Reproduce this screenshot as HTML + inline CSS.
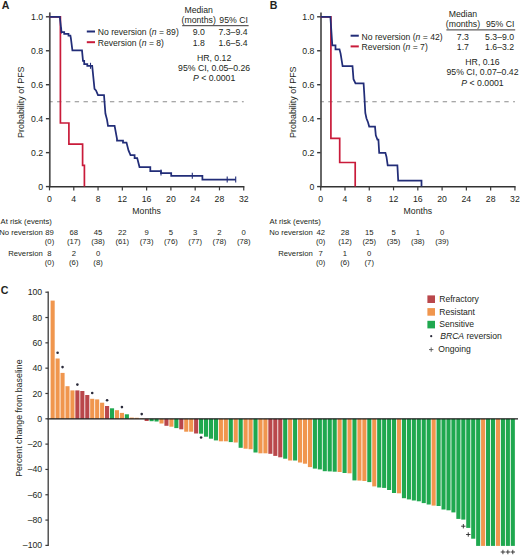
<!DOCTYPE html><html><head><meta charset="utf-8"><style>html,body{margin:0;padding:0;background:#fff;}svg{display:block;font-family:"Liberation Sans",sans-serif;}text{fill:#231f20;}</style></head><body>
<svg width="520" height="555" viewBox="0 0 520 555">
<rect width="520" height="555" fill="#fff"/>
<text x="1.8" y="9.3" font-size="10.6" font-weight="bold">A</text>
<line x1="49.5" y1="101.70" x2="243.74" y2="101.70" stroke="#8c8c8c" stroke-width="1.1" stroke-dasharray="4.4 4.4" stroke-dashoffset="1.2"/>
<line x1="49.8" y1="12.4" x2="49.8" y2="187.20" stroke="#4d4d4d" stroke-width="1.7"/>
<line x1="45.9" y1="186.60" x2="49.5" y2="186.60" stroke="#3a3a3a" stroke-width="1.4"/>
<text x="43.2" y="189.65" font-size="8.7" text-anchor="end" >0</text>
<line x1="45.9" y1="152.64" x2="49.5" y2="152.64" stroke="#3a3a3a" stroke-width="1.4"/>
<text x="43.2" y="155.69" font-size="8.7" text-anchor="end" >0.2</text>
<line x1="45.9" y1="118.68" x2="49.5" y2="118.68" stroke="#3a3a3a" stroke-width="1.4"/>
<text x="43.2" y="121.73" font-size="8.7" text-anchor="end" >0.4</text>
<line x1="45.9" y1="84.72" x2="49.5" y2="84.72" stroke="#3a3a3a" stroke-width="1.4"/>
<text x="43.2" y="87.77" font-size="8.7" text-anchor="end" >0.6</text>
<line x1="45.9" y1="50.76" x2="49.5" y2="50.76" stroke="#3a3a3a" stroke-width="1.4"/>
<text x="43.2" y="53.81" font-size="8.7" text-anchor="end" >0.8</text>
<line x1="45.9" y1="16.80" x2="49.5" y2="16.80" stroke="#3a3a3a" stroke-width="1.4"/>
<text x="43.2" y="19.85" font-size="8.7" text-anchor="end" >1.0</text>
<line x1="48.9" y1="186.7" x2="244.34" y2="186.7" stroke="#333" stroke-width="1.5"/>
<line x1="49.50" y1="186.6" x2="49.50" y2="190.4" stroke="#3a3a3a" stroke-width="1.2"/>
<text x="49.50" y="202.2" font-size="8.7" text-anchor="middle" >0</text>
<line x1="73.78" y1="186.6" x2="73.78" y2="190.4" stroke="#3a3a3a" stroke-width="1.2"/>
<text x="73.78" y="202.2" font-size="8.7" text-anchor="middle" >4</text>
<line x1="98.06" y1="186.6" x2="98.06" y2="190.4" stroke="#3a3a3a" stroke-width="1.2"/>
<text x="98.06" y="202.2" font-size="8.7" text-anchor="middle" >8</text>
<line x1="122.34" y1="186.6" x2="122.34" y2="190.4" stroke="#3a3a3a" stroke-width="1.2"/>
<text x="122.34" y="202.2" font-size="8.7" text-anchor="middle" >12</text>
<line x1="146.62" y1="186.6" x2="146.62" y2="190.4" stroke="#3a3a3a" stroke-width="1.2"/>
<text x="146.62" y="202.2" font-size="8.7" text-anchor="middle" >16</text>
<line x1="170.90" y1="186.6" x2="170.90" y2="190.4" stroke="#3a3a3a" stroke-width="1.2"/>
<text x="170.90" y="202.2" font-size="8.7" text-anchor="middle" >20</text>
<line x1="195.18" y1="186.6" x2="195.18" y2="190.4" stroke="#3a3a3a" stroke-width="1.2"/>
<text x="195.18" y="202.2" font-size="8.7" text-anchor="middle" >24</text>
<line x1="219.46" y1="186.6" x2="219.46" y2="190.4" stroke="#3a3a3a" stroke-width="1.2"/>
<text x="219.46" y="202.2" font-size="8.7" text-anchor="middle" >28</text>
<line x1="243.74" y1="186.6" x2="243.74" y2="190.4" stroke="#3a3a3a" stroke-width="1.2"/>
<text x="243.74" y="202.2" font-size="8.7" text-anchor="middle" >32</text>
<text x="146.62" y="213.6" font-size="8.7" text-anchor="middle" >Months</text>
<text transform="translate(23.5,102.2) rotate(-90)" font-size="8.95" text-anchor="middle">Probability of PFS</text>
<path d="M49.50,16.80 L60.40,16.80 L60.40,123.00 L68.90,123.00 L68.90,144.20 L82.60,144.20 L82.60,165.40 L84.40,165.40 L84.40,186.60" fill="none" stroke="#c91b3a" stroke-width="1.7" stroke-linejoin="miter"/>
<path d="M49.50,16.80 L59.80,16.80 L61.20,29.70 L61.50,32.00 L64.20,32.00 L64.20,33.90 L68.50,33.90 L68.50,35.50 L70.40,35.50 L70.90,38.50 L72.40,50.30 L82.00,50.30 L83.00,60.80 L84.20,60.80 L84.20,64.00 L87.30,64.00 L87.30,65.80 L92.20,65.80 L94.50,88.80 L96.00,90.50 L98.00,95.00 L104.00,95.00 L105.40,113.50 L107.00,119.60 L108.00,125.80 L114.60,125.80 L117.00,138.80 L117.00,140.70 L123.00,140.70 L123.00,142.60 L126.50,142.60 L128.50,150.40 L130.50,155.00 L134.60,155.00 L134.60,158.00 L137.20,158.00 L139.50,167.00 L150.30,167.00 L150.30,171.10 L161.00,171.10 L161.00,173.20 L171.20,173.20 L171.20,175.80 L202.40,175.80 L202.40,179.50 L235.70,179.50" fill="none" stroke="#222d78" stroke-width="1.75" stroke-linejoin="miter"/>
<line x1="61.5" y1="27.5" x2="61.5" y2="33.5" stroke="#222d78" stroke-width="1.1"/>
<line x1="90.5" y1="62.8" x2="90.5" y2="68.8" stroke="#222d78" stroke-width="1.1"/>
<line x1="161.0" y1="169.6" x2="161.0" y2="175.6" stroke="#222d78" stroke-width="1.1"/>
<line x1="192.3" y1="172.8" x2="192.3" y2="178.8" stroke="#222d78" stroke-width="1.1"/>
<line x1="227.2" y1="176.5" x2="227.2" y2="182.5" stroke="#222d78" stroke-width="1.1"/>
<line x1="235.7" y1="176.5" x2="235.7" y2="182.5" stroke="#222d78" stroke-width="1.1"/>
<line x1="86.8" y1="31.5" x2="95.0" y2="31.5" stroke="#222d78" stroke-width="2"/>
<line x1="86.8" y1="42.2" x2="95.0" y2="42.2" stroke="#c91b3a" stroke-width="2"/>
<text x="97.8" y="35.3" font-size="8.6" text-anchor="start" >No reversion (<tspan font-style="italic">n</tspan> = 89)</text>
<text x="97.8" y="45.9" font-size="8.6" text-anchor="start" >Reversion (<tspan font-style="italic">n</tspan> = 8)</text>
<text x="198.7" y="13.2" font-size="8.7" text-anchor="middle" >Median</text>
<text x="198.7" y="22.9" font-size="8.7" text-anchor="middle" >(months)</text>
<text x="233.6" y="22.9" font-size="8.7" text-anchor="middle" >95% CI</text>
<line x1="182.2" y1="25.7" x2="248.6" y2="25.7" stroke="#231f20" stroke-width="0.9"/>
<text x="198.7" y="35.3" font-size="8.7" text-anchor="middle" >9.0</text>
<text x="233.0" y="35.3" font-size="8.7" text-anchor="middle" >7.3&#8211;9.4</text>
<text x="198.7" y="45.9" font-size="8.7" text-anchor="middle" >1.8</text>
<text x="233.0" y="45.9" font-size="8.7" text-anchor="middle" >1.6&#8211;5.4</text>
<text x="214.1" y="60.7" font-size="8.7" text-anchor="middle" >HR, 0.12</text>
<text x="214.1" y="71.0" font-size="8.7" text-anchor="middle" >95% CI, 0.05&#8211;0.26</text>
<text x="214.1" y="81.3" font-size="8.7" text-anchor="middle" ><tspan font-style="italic">P</tspan> &lt; 0.0001</text>
<text x="0.6" y="223.9" font-size="7.7" text-anchor="start" >At risk (events)</text>
<text x="42.8" y="234.6" font-size="7.7" text-anchor="end" >No reversion</text>
<text x="42.8" y="255.6" font-size="7.7" text-anchor="end" >Reversion</text>
<text x="49.50" y="234.6" font-size="7.7" text-anchor="middle" >89</text>
<text x="73.78" y="234.6" font-size="7.7" text-anchor="middle" >68</text>
<text x="98.06" y="234.6" font-size="7.7" text-anchor="middle" >45</text>
<text x="122.34" y="234.6" font-size="7.7" text-anchor="middle" >22</text>
<text x="146.62" y="234.6" font-size="7.7" text-anchor="middle" >9</text>
<text x="170.90" y="234.6" font-size="7.7" text-anchor="middle" >5</text>
<text x="195.18" y="234.6" font-size="7.7" text-anchor="middle" >3</text>
<text x="219.46" y="234.6" font-size="7.7" text-anchor="middle" >2</text>
<text x="243.74" y="234.6" font-size="7.7" text-anchor="middle" >0</text>
<text x="49.50" y="244.0" font-size="7.7" text-anchor="middle" >(0)</text>
<text x="73.78" y="244.0" font-size="7.7" text-anchor="middle" >(17)</text>
<text x="98.06" y="244.0" font-size="7.7" text-anchor="middle" >(38)</text>
<text x="122.34" y="244.0" font-size="7.7" text-anchor="middle" >(61)</text>
<text x="146.62" y="244.0" font-size="7.7" text-anchor="middle" >(73)</text>
<text x="170.90" y="244.0" font-size="7.7" text-anchor="middle" >(76)</text>
<text x="195.18" y="244.0" font-size="7.7" text-anchor="middle" >(77)</text>
<text x="219.46" y="244.0" font-size="7.7" text-anchor="middle" >(78)</text>
<text x="243.74" y="244.0" font-size="7.7" text-anchor="middle" >(78)</text>
<text x="49.50" y="255.6" font-size="7.7" text-anchor="middle" >8</text>
<text x="73.78" y="255.6" font-size="7.7" text-anchor="middle" >2</text>
<text x="98.06" y="255.6" font-size="7.7" text-anchor="middle" >0</text>
<text x="49.50" y="265.0" font-size="7.7" text-anchor="middle" >(0)</text>
<text x="73.78" y="265.0" font-size="7.7" text-anchor="middle" >(6)</text>
<text x="98.06" y="265.0" font-size="7.7" text-anchor="middle" >(8)</text>
<text x="269.8" y="9.3" font-size="10.6" font-weight="bold">B</text>
<line x1="320.7" y1="101.70" x2="514.94" y2="101.70" stroke="#8c8c8c" stroke-width="1.1" stroke-dasharray="4.4 4.4" stroke-dashoffset="1.2"/>
<line x1="321.0" y1="12.4" x2="321.0" y2="187.20" stroke="#4d4d4d" stroke-width="1.7"/>
<line x1="317.09999999999997" y1="186.60" x2="320.7" y2="186.60" stroke="#3a3a3a" stroke-width="1.4"/>
<text x="314.4" y="189.65" font-size="8.7" text-anchor="end" >0</text>
<line x1="317.09999999999997" y1="152.64" x2="320.7" y2="152.64" stroke="#3a3a3a" stroke-width="1.4"/>
<text x="314.4" y="155.69" font-size="8.7" text-anchor="end" >0.2</text>
<line x1="317.09999999999997" y1="118.68" x2="320.7" y2="118.68" stroke="#3a3a3a" stroke-width="1.4"/>
<text x="314.4" y="121.73" font-size="8.7" text-anchor="end" >0.4</text>
<line x1="317.09999999999997" y1="84.72" x2="320.7" y2="84.72" stroke="#3a3a3a" stroke-width="1.4"/>
<text x="314.4" y="87.77" font-size="8.7" text-anchor="end" >0.6</text>
<line x1="317.09999999999997" y1="50.76" x2="320.7" y2="50.76" stroke="#3a3a3a" stroke-width="1.4"/>
<text x="314.4" y="53.81" font-size="8.7" text-anchor="end" >0.8</text>
<line x1="317.09999999999997" y1="16.80" x2="320.7" y2="16.80" stroke="#3a3a3a" stroke-width="1.4"/>
<text x="314.4" y="19.85" font-size="8.7" text-anchor="end" >1.0</text>
<line x1="320.09999999999997" y1="186.7" x2="515.54" y2="186.7" stroke="#333" stroke-width="1.5"/>
<line x1="320.70" y1="186.6" x2="320.70" y2="190.4" stroke="#3a3a3a" stroke-width="1.2"/>
<text x="320.70" y="202.2" font-size="8.7" text-anchor="middle" >0</text>
<line x1="344.98" y1="186.6" x2="344.98" y2="190.4" stroke="#3a3a3a" stroke-width="1.2"/>
<text x="344.98" y="202.2" font-size="8.7" text-anchor="middle" >4</text>
<line x1="369.26" y1="186.6" x2="369.26" y2="190.4" stroke="#3a3a3a" stroke-width="1.2"/>
<text x="369.26" y="202.2" font-size="8.7" text-anchor="middle" >8</text>
<line x1="393.54" y1="186.6" x2="393.54" y2="190.4" stroke="#3a3a3a" stroke-width="1.2"/>
<text x="393.54" y="202.2" font-size="8.7" text-anchor="middle" >12</text>
<line x1="417.82" y1="186.6" x2="417.82" y2="190.4" stroke="#3a3a3a" stroke-width="1.2"/>
<text x="417.82" y="202.2" font-size="8.7" text-anchor="middle" >16</text>
<line x1="442.10" y1="186.6" x2="442.10" y2="190.4" stroke="#3a3a3a" stroke-width="1.2"/>
<text x="442.10" y="202.2" font-size="8.7" text-anchor="middle" >20</text>
<line x1="466.38" y1="186.6" x2="466.38" y2="190.4" stroke="#3a3a3a" stroke-width="1.2"/>
<text x="466.38" y="202.2" font-size="8.7" text-anchor="middle" >24</text>
<line x1="490.66" y1="186.6" x2="490.66" y2="190.4" stroke="#3a3a3a" stroke-width="1.2"/>
<text x="490.66" y="202.2" font-size="8.7" text-anchor="middle" >28</text>
<line x1="514.94" y1="186.6" x2="514.94" y2="190.4" stroke="#3a3a3a" stroke-width="1.2"/>
<text x="514.94" y="202.2" font-size="8.7" text-anchor="middle" >32</text>
<text x="417.82" y="213.6" font-size="8.7" text-anchor="middle" >Months</text>
<text transform="translate(295.9,102.2) rotate(-90)" font-size="8.95" text-anchor="middle">Probability of PFS</text>
<path d="M320.70,16.80 L330.90,16.80 L330.90,138.40 L339.70,138.40 L339.70,162.50 L355.20,162.50 L355.20,186.60" fill="none" stroke="#c91b3a" stroke-width="1.7" stroke-linejoin="miter"/>
<path d="M320.70,16.80 L330.40,16.80 L332.30,45.40 L335.50,45.40 L335.50,49.40 L339.50,49.40 L340.60,53.60 L342.60,66.10 L352.50,66.10 L353.50,79.20 L355.50,83.40 L363.60,83.40 L364.40,96.20 L365.30,113.00 L366.50,118.50 L368.00,122.30 L369.20,126.60 L375.00,126.60 L375.80,135.40 L377.40,139.50 L378.40,139.50 L379.20,152.80 L385.40,152.80 L386.50,157.00 L387.70,165.40 L397.40,165.40 L398.20,180.50 L421.50,180.50 L421.50,186.60" fill="none" stroke="#222d78" stroke-width="1.75" stroke-linejoin="miter"/>
<line x1="350.6" y1="35.7" x2="358.8" y2="35.7" stroke="#222d78" stroke-width="2"/>
<line x1="350.6" y1="46.400000000000006" x2="358.8" y2="46.400000000000006" stroke="#c91b3a" stroke-width="2"/>
<text x="361.6" y="39.5" font-size="8.6" text-anchor="start" >No reversion (<tspan font-style="italic">n</tspan> = 42)</text>
<text x="361.6" y="50.1" font-size="8.6" text-anchor="start" >Reversion (<tspan font-style="italic">n</tspan> = 7)</text>
<text x="462.9" y="16.56" font-size="8.7" text-anchor="middle" >Median</text>
<text x="462.9" y="27.099999999999998" font-size="8.7" text-anchor="middle" >(months)</text>
<text x="500.20000000000005" y="27.099999999999998" font-size="8.7" text-anchor="middle" >95% CI</text>
<line x1="446.4" y1="29.9" x2="515.2" y2="29.9" stroke="#231f20" stroke-width="0.9"/>
<text x="462.9" y="39.5" font-size="8.7" text-anchor="middle" >7.3</text>
<text x="499.6" y="39.5" font-size="8.7" text-anchor="middle" >5.3&#8211;9.0</text>
<text x="462.9" y="50.1" font-size="8.7" text-anchor="middle" >1.7</text>
<text x="499.6" y="50.1" font-size="8.7" text-anchor="middle" >1.6&#8211;3.2</text>
<text x="482.5" y="64.9" font-size="8.7" text-anchor="middle" >HR, 0.16</text>
<text x="482.5" y="75.2" font-size="8.7" text-anchor="middle" >95% CI, 0.07&#8211;0.42</text>
<text x="482.5" y="85.5" font-size="8.7" text-anchor="middle" ><tspan font-style="italic">P</tspan> &lt; 0.0001</text>
<text x="269.6" y="223.9" font-size="7.7" text-anchor="start" >At risk (events)</text>
<text x="312.8" y="234.6" font-size="7.7" text-anchor="end" >No reversion</text>
<text x="312.8" y="255.6" font-size="7.7" text-anchor="end" >Reversion</text>
<text x="320.70" y="234.6" font-size="7.7" text-anchor="middle" >42</text>
<text x="344.98" y="234.6" font-size="7.7" text-anchor="middle" >28</text>
<text x="369.26" y="234.6" font-size="7.7" text-anchor="middle" >15</text>
<text x="393.54" y="234.6" font-size="7.7" text-anchor="middle" >5</text>
<text x="417.82" y="234.6" font-size="7.7" text-anchor="middle" >1</text>
<text x="442.10" y="234.6" font-size="7.7" text-anchor="middle" >0</text>
<text x="320.70" y="244.0" font-size="7.7" text-anchor="middle" >(0)</text>
<text x="344.98" y="244.0" font-size="7.7" text-anchor="middle" >(12)</text>
<text x="369.26" y="244.0" font-size="7.7" text-anchor="middle" >(25)</text>
<text x="393.54" y="244.0" font-size="7.7" text-anchor="middle" >(35)</text>
<text x="417.82" y="244.0" font-size="7.7" text-anchor="middle" >(38)</text>
<text x="442.10" y="244.0" font-size="7.7" text-anchor="middle" >(39)</text>
<text x="320.70" y="255.6" font-size="7.7" text-anchor="middle" >7</text>
<text x="344.98" y="255.6" font-size="7.7" text-anchor="middle" >1</text>
<text x="369.26" y="255.6" font-size="7.7" text-anchor="middle" >0</text>
<text x="320.70" y="265.0" font-size="7.7" text-anchor="middle" >(0)</text>
<text x="344.98" y="265.0" font-size="7.7" text-anchor="middle" >(6)</text>
<text x="369.26" y="265.0" font-size="7.7" text-anchor="middle" >(7)</text>
<text x="0.8" y="293.6" font-size="10.6" font-weight="bold">C</text>
<rect x="50.600" y="300.60" width="4.1" height="118.20" fill="#f0964e"/>
<rect x="55.548" y="358.50" width="4.1" height="60.30" fill="#f0964e"/>
<rect x="60.496" y="372.90" width="4.1" height="45.90" fill="#f0964e"/>
<rect x="65.444" y="386.20" width="4.1" height="32.60" fill="#f0964e"/>
<rect x="70.392" y="390.40" width="4.1" height="28.40" fill="#f0964e"/>
<rect x="75.340" y="390.40" width="4.1" height="28.40" fill="#b9474b"/>
<rect x="80.288" y="391.00" width="4.1" height="27.80" fill="#b9474b"/>
<rect x="85.236" y="395.00" width="4.1" height="23.80" fill="#b9474b"/>
<rect x="90.184" y="398.80" width="4.1" height="20.00" fill="#f0964e"/>
<rect x="95.132" y="399.40" width="4.1" height="19.40" fill="#f0964e"/>
<rect x="100.080" y="402.70" width="4.1" height="16.10" fill="#f0964e"/>
<rect x="105.028" y="406.00" width="4.1" height="12.80" fill="#b9474b"/>
<rect x="109.976" y="408.30" width="4.1" height="10.50" fill="#1fa84f"/>
<rect x="114.924" y="410.20" width="4.1" height="8.60" fill="#f0964e"/>
<rect x="119.872" y="412.90" width="4.1" height="5.90" fill="#f0964e"/>
<rect x="124.820" y="414.30" width="4.1" height="4.50" fill="#1fa84f"/>
<rect x="129.768" y="417.60" width="4.1" height="1.20" fill="#f0964e"/>
<rect x="134.716" y="417.80" width="4.1" height="1.00" fill="#f0964e"/>
<rect x="139.664" y="418.40" width="4.1" height="0.40" fill="#f0964e"/>
<rect x="144.612" y="418.80" width="4.1" height="2.20" fill="#b9474b"/>
<rect x="149.560" y="418.80" width="4.1" height="2.40" fill="#1fa84f"/>
<rect x="154.508" y="418.80" width="4.1" height="2.70" fill="#1fa84f"/>
<rect x="159.456" y="418.80" width="4.1" height="4.70" fill="#f0964e"/>
<rect x="164.404" y="418.80" width="4.1" height="7.00" fill="#b9474b"/>
<rect x="169.352" y="418.80" width="4.1" height="7.90" fill="#f0964e"/>
<rect x="174.300" y="418.80" width="4.1" height="9.30" fill="#1fa84f"/>
<rect x="179.248" y="418.80" width="4.1" height="10.50" fill="#b9474b"/>
<rect x="184.196" y="418.80" width="4.1" height="12.90" fill="#f0964e"/>
<rect x="189.144" y="418.80" width="4.1" height="12.90" fill="#f0964e"/>
<rect x="194.092" y="418.80" width="4.1" height="14.70" fill="#b9474b"/>
<rect x="199.040" y="418.80" width="4.1" height="14.90" fill="#1fa84f"/>
<rect x="203.988" y="418.80" width="4.1" height="17.90" fill="#1fa84f"/>
<rect x="208.936" y="418.80" width="4.1" height="19.90" fill="#1fa84f"/>
<rect x="213.884" y="418.80" width="4.1" height="21.60" fill="#1fa84f"/>
<rect x="218.832" y="418.80" width="4.1" height="22.50" fill="#f0964e"/>
<rect x="223.780" y="418.80" width="4.1" height="22.50" fill="#f0964e"/>
<rect x="228.728" y="418.80" width="4.1" height="23.30" fill="#1fa84f"/>
<rect x="233.676" y="418.80" width="4.1" height="23.70" fill="#f0964e"/>
<rect x="238.624" y="418.80" width="4.1" height="29.00" fill="#1fa84f"/>
<rect x="243.572" y="418.80" width="4.1" height="29.90" fill="#f0964e"/>
<rect x="248.520" y="418.80" width="4.1" height="30.40" fill="#f0964e"/>
<rect x="253.468" y="418.80" width="4.1" height="33.70" fill="#1fa84f"/>
<rect x="258.416" y="418.80" width="4.1" height="34.50" fill="#f0964e"/>
<rect x="263.364" y="418.80" width="4.1" height="34.50" fill="#f0964e"/>
<rect x="268.312" y="418.80" width="4.1" height="35.00" fill="#b9474b"/>
<rect x="273.260" y="418.80" width="4.1" height="37.10" fill="#b9474b"/>
<rect x="278.208" y="418.80" width="4.1" height="38.50" fill="#b9474b"/>
<rect x="283.156" y="418.80" width="4.1" height="39.90" fill="#1fa84f"/>
<rect x="288.104" y="418.80" width="4.1" height="41.70" fill="#f0964e"/>
<rect x="293.052" y="418.80" width="4.1" height="41.70" fill="#1fa84f"/>
<rect x="298.000" y="418.80" width="4.1" height="43.70" fill="#f0964e"/>
<rect x="302.948" y="418.80" width="4.1" height="44.90" fill="#f0964e"/>
<rect x="307.896" y="418.80" width="4.1" height="48.30" fill="#f0964e"/>
<rect x="312.844" y="418.80" width="4.1" height="49.80" fill="#1fa84f"/>
<rect x="317.792" y="418.80" width="4.1" height="50.60" fill="#1fa84f"/>
<rect x="322.740" y="418.80" width="4.1" height="52.40" fill="#1fa84f"/>
<rect x="327.688" y="418.80" width="4.1" height="52.60" fill="#1fa84f"/>
<rect x="332.636" y="418.80" width="4.1" height="52.90" fill="#1fa84f"/>
<rect x="337.584" y="418.80" width="4.1" height="53.20" fill="#f0964e"/>
<rect x="342.532" y="418.80" width="4.1" height="54.20" fill="#1fa84f"/>
<rect x="347.480" y="418.80" width="4.1" height="54.50" fill="#f0964e"/>
<rect x="352.428" y="418.80" width="4.1" height="61.60" fill="#1fa84f"/>
<rect x="357.376" y="418.80" width="4.1" height="61.80" fill="#f0964e"/>
<rect x="362.324" y="418.80" width="4.1" height="62.20" fill="#f0964e"/>
<rect x="367.272" y="418.80" width="4.1" height="63.30" fill="#1fa84f"/>
<rect x="372.220" y="418.80" width="4.1" height="67.60" fill="#f0964e"/>
<rect x="377.168" y="418.80" width="4.1" height="68.70" fill="#1fa84f"/>
<rect x="382.116" y="418.80" width="4.1" height="69.10" fill="#1fa84f"/>
<rect x="387.064" y="418.80" width="4.1" height="71.20" fill="#1fa84f"/>
<rect x="392.012" y="418.80" width="4.1" height="74.20" fill="#1fa84f"/>
<rect x="396.960" y="418.80" width="4.1" height="74.50" fill="#f0964e"/>
<rect x="401.908" y="418.80" width="4.1" height="79.40" fill="#1fa84f"/>
<rect x="406.856" y="418.80" width="4.1" height="80.60" fill="#1fa84f"/>
<rect x="411.804" y="418.80" width="4.1" height="81.70" fill="#1fa84f"/>
<rect x="416.752" y="418.80" width="4.1" height="82.50" fill="#1fa84f"/>
<rect x="421.700" y="418.80" width="4.1" height="84.30" fill="#1fa84f"/>
<rect x="426.648" y="418.80" width="4.1" height="85.70" fill="#1fa84f"/>
<rect x="431.596" y="418.80" width="4.1" height="86.80" fill="#f0964e"/>
<rect x="436.544" y="418.80" width="4.1" height="87.20" fill="#1fa84f"/>
<rect x="441.492" y="418.80" width="4.1" height="90.70" fill="#1fa84f"/>
<rect x="446.440" y="418.80" width="4.1" height="91.50" fill="#1fa84f"/>
<rect x="451.388" y="418.80" width="4.1" height="93.60" fill="#1fa84f"/>
<rect x="456.336" y="418.80" width="4.1" height="100.10" fill="#1fa84f"/>
<rect x="461.284" y="418.80" width="4.1" height="100.80" fill="#1fa84f"/>
<rect x="466.232" y="418.80" width="4.1" height="109.10" fill="#1fa84f"/>
<rect x="471.180" y="418.80" width="4.1" height="119.90" fill="#1fa84f"/>
<rect x="476.128" y="418.80" width="4.1" height="127.10" fill="#1fa84f"/>
<rect x="481.076" y="418.80" width="4.1" height="127.10" fill="#f0964e"/>
<rect x="486.024" y="418.80" width="4.1" height="127.10" fill="#1fa84f"/>
<rect x="490.972" y="418.80" width="4.1" height="127.10" fill="#1fa84f"/>
<rect x="495.920" y="418.80" width="4.1" height="127.10" fill="#f0964e"/>
<rect x="500.868" y="418.80" width="4.1" height="127.10" fill="#1fa84f"/>
<rect x="505.816" y="418.80" width="4.1" height="127.10" fill="#1fa84f"/>
<rect x="510.764" y="418.80" width="4.1" height="127.10" fill="#1fa84f"/>
<circle cx="57.60" cy="352.70" r="1.3" fill="#2a2a3a"/>
<circle cx="62.55" cy="367.10" r="1.3" fill="#2a2a3a"/>
<circle cx="77.39" cy="384.60" r="1.3" fill="#2a2a3a"/>
<circle cx="92.23" cy="393.00" r="1.3" fill="#2a2a3a"/>
<circle cx="107.08" cy="400.20" r="1.3" fill="#2a2a3a"/>
<circle cx="121.92" cy="407.10" r="1.3" fill="#2a2a3a"/>
<circle cx="141.71" cy="414.10" r="1.3" fill="#2a2a3a"/>
<circle cx="201.09" cy="437.50" r="1.3" fill="#2a2a3a"/>
<path d="M461.13,526.20 H465.53 M463.33,524.00 V528.40" stroke="#2a2a2a" stroke-width="0.9"/>
<path d="M466.08,534.50 H470.48 M468.28,532.30 V536.70" stroke="#2a2a2a" stroke-width="0.9"/>
<path d="M500.72,552.00 H505.12 M502.92,549.80 V554.20" stroke="#2a2a2a" stroke-width="0.9"/>
<path d="M505.67,552.00 H510.07 M507.87,549.80 V554.20" stroke="#2a2a2a" stroke-width="0.9"/>
<path d="M510.61,552.00 H515.01 M512.81,549.80 V554.20" stroke="#2a2a2a" stroke-width="0.9"/>
<line x1="47.5" y1="418.8" x2="518" y2="418.8" stroke="#1a1a1a" stroke-width="1.3"/>
<line x1="48.2" y1="291.60" x2="48.2" y2="546.00" stroke="#3a3a3a" stroke-width="1.3"/>
<line x1="45.400000000000006" y1="292.20" x2="48.2" y2="292.20" stroke="#3a3a3a" stroke-width="1.2"/>
<text x="42.2" y="295.25" font-size="8.7" text-anchor="end" >100</text>
<line x1="45.400000000000006" y1="317.52" x2="48.2" y2="317.52" stroke="#3a3a3a" stroke-width="1.2"/>
<text x="42.2" y="320.57" font-size="8.7" text-anchor="end" >80</text>
<line x1="45.400000000000006" y1="342.84" x2="48.2" y2="342.84" stroke="#3a3a3a" stroke-width="1.2"/>
<text x="42.2" y="345.89" font-size="8.7" text-anchor="end" >60</text>
<line x1="45.400000000000006" y1="368.16" x2="48.2" y2="368.16" stroke="#3a3a3a" stroke-width="1.2"/>
<text x="42.2" y="371.21" font-size="8.7" text-anchor="end" >40</text>
<line x1="45.400000000000006" y1="393.48" x2="48.2" y2="393.48" stroke="#3a3a3a" stroke-width="1.2"/>
<text x="42.2" y="396.53" font-size="8.7" text-anchor="end" >20</text>
<line x1="45.400000000000006" y1="418.80" x2="48.2" y2="418.80" stroke="#3a3a3a" stroke-width="1.2"/>
<text x="42.2" y="421.85" font-size="8.7" text-anchor="end" >0</text>
<line x1="45.400000000000006" y1="444.12" x2="48.2" y2="444.12" stroke="#3a3a3a" stroke-width="1.2"/>
<text x="42.2" y="447.17" font-size="8.7" text-anchor="end" >&#8211;20</text>
<line x1="45.400000000000006" y1="469.44" x2="48.2" y2="469.44" stroke="#3a3a3a" stroke-width="1.2"/>
<text x="42.2" y="472.49" font-size="8.7" text-anchor="end" >&#8211;40</text>
<line x1="45.400000000000006" y1="494.76" x2="48.2" y2="494.76" stroke="#3a3a3a" stroke-width="1.2"/>
<text x="42.2" y="497.81" font-size="8.7" text-anchor="end" >&#8211;60</text>
<line x1="45.400000000000006" y1="520.08" x2="48.2" y2="520.08" stroke="#3a3a3a" stroke-width="1.2"/>
<text x="42.2" y="523.13" font-size="8.7" text-anchor="end" >&#8211;80</text>
<line x1="45.400000000000006" y1="545.40" x2="48.2" y2="545.40" stroke="#3a3a3a" stroke-width="1.2"/>
<text x="42.2" y="548.45" font-size="8.7" text-anchor="end" >&#8211;100</text>
<text transform="translate(21.7,418.1) rotate(-90)" font-size="8.85" text-anchor="middle">Percent change from baseline</text>
<rect x="427.4" y="295.4" width="7.6" height="7.6" fill="#b9474b"/>
<text x="439.2" y="302.00" font-size="8.6" text-anchor="start" >Refractory</text>
<rect x="427.4" y="308.1" width="7.6" height="7.6" fill="#f0964e"/>
<text x="439.2" y="314.70" font-size="8.6" text-anchor="start" >Resistant</text>
<rect x="427.4" y="320.8" width="7.6" height="7.6" fill="#1fa84f"/>
<text x="439.2" y="327.40" font-size="8.6" text-anchor="start" >Sensitive</text>
<circle cx="431.2" cy="336.2" r="1.1" fill="#2a2a3a"/>
<text x="440.2" y="339.1" font-size="8.6" text-anchor="start" ><tspan font-style="italic">BRCA</tspan> reversion</text>
<path d="M429,349.6 H433.4 M431.2,347.4 V351.8" stroke="#555" stroke-width="0.9"/>
<text x="438.3" y="351.6" font-size="8.6" text-anchor="start" >Ongoing</text>
</svg></body></html>
